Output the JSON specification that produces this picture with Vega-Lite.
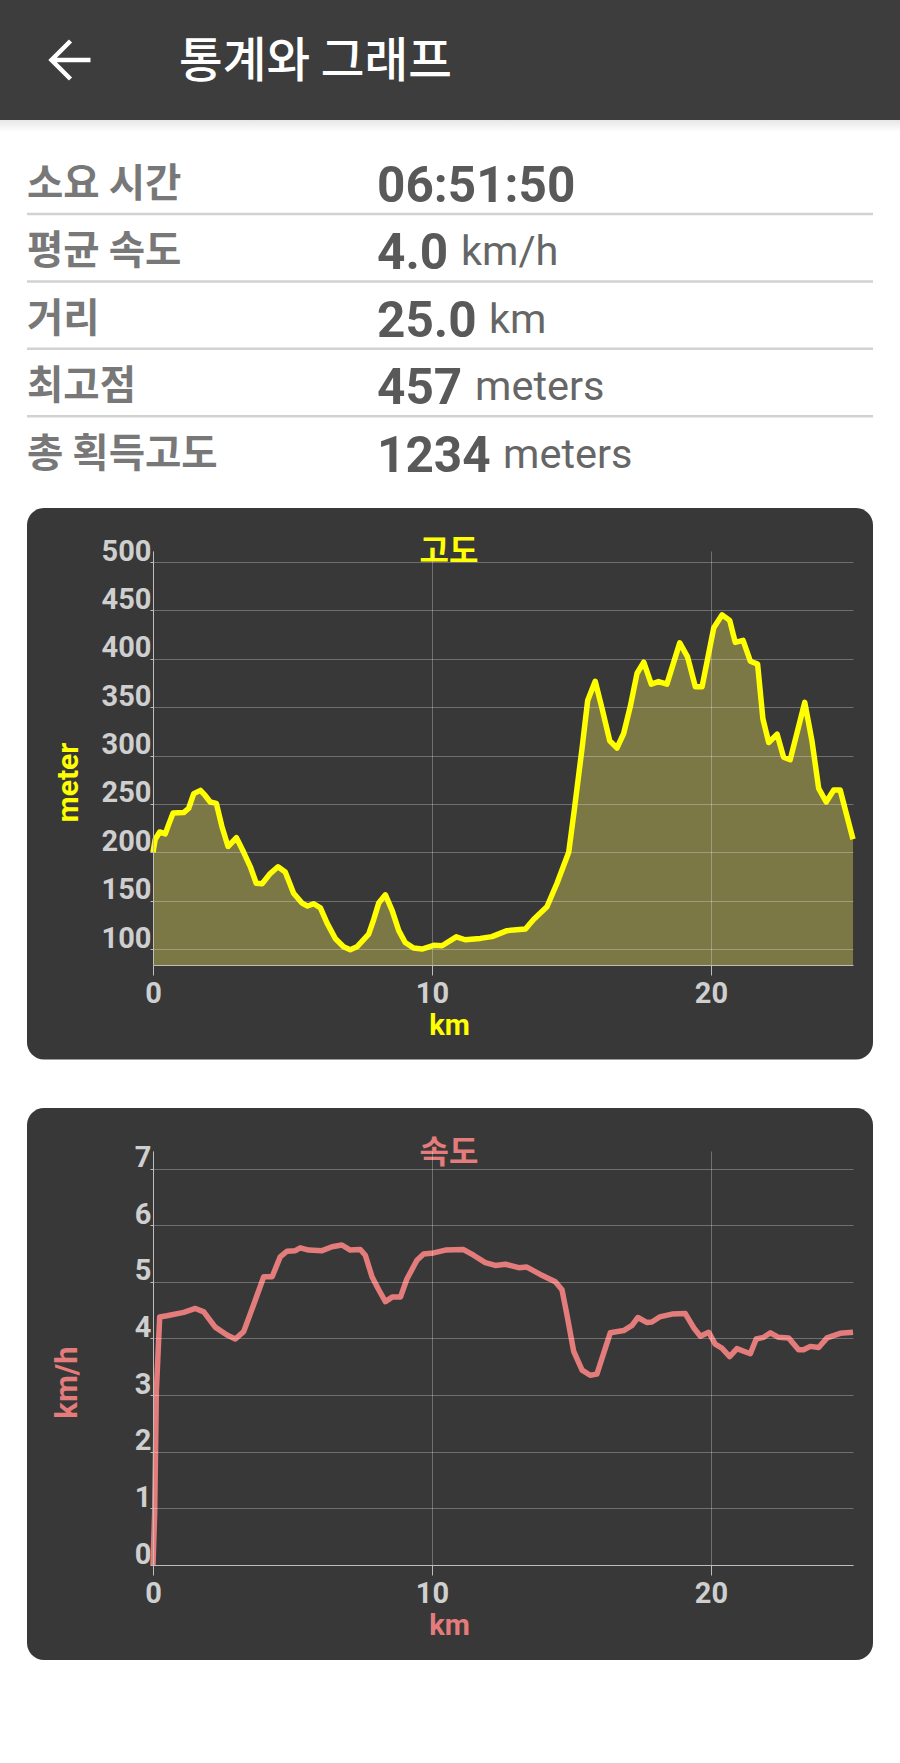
{
  "$schema": "https://vega.github.io/schema/vega-lite/v6.json",
  "background": "white",
  "padding": 0,
  "bounds": "flush",
  "spacing": 186,
  "config": {
    "view": {"stroke": null},
    "axis": {
      "labelFont": "Roboto", "labelFontWeight": "bold", "labelFontSize": 29, "labelColor": "#cfcfcf",
      "titleFont": "Roboto", "titleFontWeight": "bold", "titleFontSize": 28,
      "grid": true, "gridColor": "#ffffff", "gridOpacity": 0.28, "gridWidth": 1,
      "domainColor": "#bdbdbd", "tickColor": "#bdbdbd"
    },
    "text": {"font": "Noto Sans CJK KR"}
  },
  "datasets": {
    "rows": [
      {"row": "소요 시간", "value": "06:51:50", "unit": ""},
      {"row": "평균 속도", "value": "4.0", "unit": "km/h"},
      {"row": "거리", "value": "25.0", "unit": "km"},
      {"row": "최고점", "value": "457", "unit": "meters"},
      {"row": "총 획득고도", "value": "1234", "unit": "meters"}
    ],
    "elevation": [
      {"km": 0, "m": 200}, {"km": 0.08, "m": 213.5}, {"km": 0.24, "m": 221}, {"km": 0.44, "m": 219},
      {"km": 0.56, "m": 228.6}, {"km": 0.72, "m": 240.6}, {"km": 1.1, "m": 241}, {"km": 1.28, "m": 245.5},
      {"km": 1.46, "m": 260.6}, {"km": 1.7, "m": 264}, {"km": 1.87, "m": 258.7}, {"km": 2.05, "m": 252},
      {"km": 2.27, "m": 250.5}, {"km": 2.47, "m": 226.7}, {"km": 2.69, "m": 206}, {"km": 2.99, "m": 215},
      {"km": 3.25, "m": 200}, {"km": 3.49, "m": 185}, {"km": 3.7, "m": 168}, {"km": 3.91, "m": 167.5},
      {"km": 4.2, "m": 178}, {"km": 4.48, "m": 185}, {"km": 4.74, "m": 179.6}, {"km": 5.04, "m": 157.7},
      {"km": 5.34, "m": 147.5}, {"km": 5.54, "m": 144.5}, {"km": 5.76, "m": 146.8}, {"km": 6.0, "m": 142.6},
      {"km": 6.24, "m": 126.8}, {"km": 6.54, "m": 110.6}, {"km": 6.83, "m": 102.3}, {"km": 7.07, "m": 99.2},
      {"km": 7.31, "m": 102.3}, {"km": 7.73, "m": 115.5}, {"km": 7.91, "m": 130.5}, {"km": 8.09, "m": 147.5},
      {"km": 8.33, "m": 156}, {"km": 8.57, "m": 140}, {"km": 8.81, "m": 119}, {"km": 9.04, "m": 106.8},
      {"km": 9.34, "m": 101}, {"km": 9.64, "m": 100}, {"km": 10.06, "m": 103.8}, {"km": 10.36, "m": 103.4},
      {"km": 10.87, "m": 112.6}, {"km": 11.19, "m": 109.6}, {"km": 11.73, "m": 111}, {"km": 12.15, "m": 112.8},
      {"km": 12.69, "m": 119}, {"km": 13.35, "m": 120.7}, {"km": 13.64, "m": 130.5}, {"km": 14.12, "m": 143.7},
      {"km": 14.48, "m": 168}, {"km": 14.9, "m": 200}, {"km": 15.1, "m": 243.7}, {"km": 15.38, "m": 307.8},
      {"km": 15.58, "m": 356.8}, {"km": 15.85, "m": 376.8}, {"km": 16.09, "m": 349.3}, {"km": 16.37, "m": 315.3},
      {"km": 16.63, "m": 307.8}, {"km": 16.87, "m": 322.8}, {"km": 17.11, "m": 351}, {"km": 17.35, "m": 385},
      {"km": 17.59, "m": 396.4}, {"km": 17.86, "m": 373.8}, {"km": 18.12, "m": 376.4}, {"km": 18.42, "m": 373.8},
      {"km": 18.88, "m": 416.4}, {"km": 19.16, "m": 402}, {"km": 19.44, "m": 371}, {"km": 19.68, "m": 371},
      {"km": 20.1, "m": 432}, {"km": 20.4, "m": 445.4}, {"km": 20.67, "m": 439.7}, {"km": 20.87, "m": 417},
      {"km": 21.15, "m": 419}, {"km": 21.41, "m": 397.5}, {"km": 21.67, "m": 394.5}, {"km": 21.86, "m": 338},
      {"km": 22.07, "m": 313.4}, {"km": 22.37, "m": 322}, {"km": 22.6, "m": 298.4}, {"km": 22.84, "m": 295.7},
      {"km": 23.36, "m": 355}, {"km": 23.62, "m": 315}, {"km": 23.86, "m": 266}, {"km": 24.13, "m": 252},
      {"km": 24.4, "m": 264.4}, {"km": 24.63, "m": 264.4}, {"km": 25.09, "m": 213.5}
    ],
    "speed": [
      {"km": 0, "kmh": 0}, {"km": 0.06, "kmh": 0.93}, {"km": 0.12, "kmh": 3.06}, {"km": 0.24, "kmh": 4.38},
      {"km": 0.5, "kmh": 4.4}, {"km": 1.1, "kmh": 4.46}, {"km": 1.52, "kmh": 4.53}, {"km": 1.82, "kmh": 4.47},
      {"km": 2.23, "kmh": 4.2}, {"km": 2.65, "kmh": 4.06}, {"km": 2.95, "kmh": 3.99}, {"km": 3.25, "kmh": 4.12},
      {"km": 3.61, "kmh": 4.6}, {"km": 3.97, "kmh": 5.09}, {"km": 4.27, "kmh": 5.09}, {"km": 4.56, "kmh": 5.44},
      {"km": 4.8, "kmh": 5.54}, {"km": 5.1, "kmh": 5.55}, {"km": 5.28, "kmh": 5.6}, {"km": 5.58, "kmh": 5.56},
      {"km": 6.06, "kmh": 5.55}, {"km": 6.42, "kmh": 5.62}, {"km": 6.77, "kmh": 5.65}, {"km": 7.07, "kmh": 5.56},
      {"km": 7.43, "kmh": 5.57}, {"km": 7.61, "kmh": 5.47}, {"km": 7.85, "kmh": 5.09}, {"km": 8.09, "kmh": 4.86},
      {"km": 8.33, "kmh": 4.65}, {"km": 8.57, "kmh": 4.73}, {"km": 8.87, "kmh": 4.73}, {"km": 9.1, "kmh": 5.05},
      {"km": 9.46, "kmh": 5.38}, {"km": 9.7, "kmh": 5.49}, {"km": 10.06, "kmh": 5.51}, {"km": 10.48, "kmh": 5.56},
      {"km": 11.13, "kmh": 5.57}, {"km": 11.49, "kmh": 5.47}, {"km": 11.91, "kmh": 5.34}, {"km": 12.27, "kmh": 5.29},
      {"km": 12.63, "kmh": 5.31}, {"km": 13.11, "kmh": 5.25}, {"km": 13.4, "kmh": 5.26}, {"km": 13.88, "kmh": 5.13},
      {"km": 14.42, "kmh": 5.0}, {"km": 14.66, "kmh": 4.86}, {"km": 14.84, "kmh": 4.41}, {"km": 15.08, "kmh": 3.77},
      {"km": 15.38, "kmh": 3.44}, {"km": 15.67, "kmh": 3.35}, {"km": 15.91, "kmh": 3.37}, {"km": 16.39, "kmh": 4.1},
      {"km": 16.87, "kmh": 4.14}, {"km": 17.17, "kmh": 4.23}, {"km": 17.38, "kmh": 4.37}, {"km": 17.71, "kmh": 4.28},
      {"km": 17.88, "kmh": 4.29}, {"km": 18.16, "kmh": 4.38}, {"km": 18.6, "kmh": 4.43}, {"km": 19.08, "kmh": 4.44},
      {"km": 19.38, "kmh": 4.19}, {"km": 19.62, "kmh": 4.04}, {"km": 19.92, "kmh": 4.11}, {"km": 20.15, "kmh": 3.9},
      {"km": 20.39, "kmh": 3.83}, {"km": 20.67, "kmh": 3.68}, {"km": 20.93, "kmh": 3.82}, {"km": 21.41, "kmh": 3.73},
      {"km": 21.62, "kmh": 3.99}, {"km": 21.89, "kmh": 4.02}, {"km": 22.13, "kmh": 4.1}, {"km": 22.42, "kmh": 4.02},
      {"km": 22.78, "kmh": 4.01}, {"km": 23.14, "kmh": 3.8}, {"km": 23.32, "kmh": 3.8}, {"km": 23.56, "kmh": 3.86},
      {"km": 23.86, "kmh": 3.84}, {"km": 24.16, "kmh": 4.01}, {"km": 24.63, "kmh": 4.09}, {"km": 25.09, "kmh": 4.11}
    ]
  },
  "vconcat": [
    {
      "width": 700,
      "height": 365,
      "layer": [
        {
          "data": {"values": [{}]},
          "mark": {"type": "rect", "color": {"x1": 0, "y1": 0, "x2": 0, "y2": 1, "gradient": "linear", "stops": [{"offset": 0, "color": "#e6e6e6"}, {"offset": 1, "color": "#ffffff"}]}},
          "encoding": {"x": {"value": -153}, "x2": {"value": 747}, "y": {"value": 120}, "y2": {"value": 132}}
        },
        {
          "data": {"values": [{}]},
          "mark": {"type": "rect", "color": "#3d3d3d"},
          "encoding": {"x": {"value": -153}, "x2": {"value": 747}, "y": {"value": 0}, "y2": {"value": 120}}
        },
        {
          "data": {"values": [{}]},
          "mark": {"type": "point", "shape": "M1,0L-0.95,0M0,-0.95L-0.95,0L0,0.95", "filled": false, "size": 1600, "color": "white", "strokeWidth": 4.5, "opacity": 1},
          "encoding": {"x": {"value": -82.5}, "y": {"value": 60}}
        },
        {
          "data": {"values": [{"title": "통계와 그래프"}]},
          "mark": {"type": "text", "fontSize": 47.5, "fontWeight": 500, "color": "white", "align": "left", "baseline": "alphabetic"},
          "encoding": {"text": {"field": "title"}, "x": {"value": 26}, "y": {"value": 77}}
        },
        {
          "data": {"name": "rows"},
          "transform": [{"filter": "datum.row !== '총 획득고도'"}],
          "mark": {"type": "rule", "color": "#d2d2d2", "strokeWidth": 2.5},
          "encoding": {
            "x": {"value": -126},
            "x2": {"value": 720},
            "y": {"field": "row", "type": "nominal", "sort": null, "axis": null, "scale": {"type": "point", "padding": 0, "range": [214, 483.6], "domain": ["소요 시간", "평균 속도", "거리", "최고점", "총 획득고도"]}}
          }
        },
        {
          "data": {"name": "rows"},
          "mark": {"type": "text", "fontSize": 39.5, "fontWeight": "bold", "color": "#787878", "align": "left", "baseline": "alphabetic", "dy": -17},
          "encoding": {"text": {"field": "row"}, "x": {"value": -126}, "y": {"field": "row", "type": "nominal", "sort": null}}
        },
        {
          "data": {"name": "rows"},
          "mark": {"type": "text", "font": "Roboto", "fontSize": 49.5, "fontWeight": "bold", "color": "#595959", "align": "left", "baseline": "alphabetic", "dy": -12},
          "encoding": {"text": {"field": "value"}, "x": {"value": 224}, "y": {"field": "row", "type": "nominal", "sort": null}}
        },
        {
          "data": {"name": "rows"},
          "transform": [{"filter": {"field": "row", "equal": "평균 속도"}}],
          "mark": {"type": "text", "font": "Roboto", "fontSize": 41.5, "color": "#666666", "align": "left", "baseline": "alphabetic", "dy": -16},
          "encoding": {"text": {"field": "unit"}, "x": {"value": 308}, "y": {"field": "row", "type": "nominal", "sort": null}}
        },
        {
          "data": {"name": "rows"},
          "transform": [{"filter": {"field": "row", "equal": "거리"}}],
          "mark": {"type": "text", "font": "Roboto", "fontSize": 41.5, "color": "#666666", "align": "left", "baseline": "alphabetic", "dy": -16},
          "encoding": {"text": {"field": "unit"}, "x": {"value": 336}, "y": {"field": "row", "type": "nominal", "sort": null}}
        },
        {
          "data": {"name": "rows"},
          "transform": [{"filter": {"field": "row", "equal": "최고점"}}],
          "mark": {"type": "text", "font": "Roboto", "fontSize": 41.5, "color": "#666666", "align": "left", "baseline": "alphabetic", "dy": -16},
          "encoding": {"text": {"field": "unit"}, "x": {"value": 322}, "y": {"field": "row", "type": "nominal", "sort": null}}
        },
        {
          "data": {"name": "rows"},
          "transform": [{"filter": {"field": "row", "equal": "총 획득고도"}}],
          "mark": {"type": "text", "font": "Roboto", "fontSize": 41.5, "color": "#666666", "align": "left", "baseline": "alphabetic", "dy": -16},
          "encoding": {"text": {"field": "unit"}, "x": {"value": 350}, "y": {"field": "row", "type": "nominal", "sort": null}}
        }
      ]
    },
    {
      "width": 700,
      "height": 414,
      "layer": [
        {
          "data": {"values": [{}]},
          "mark": {"type": "rect", "color": "#383838", "cornerRadius": 17},
          "encoding": {"x": {"value": -126}, "x2": {"value": 720}, "y": {"value": -43}, "y2": {"value": 508.5}}
        },
        {
          "data": {"name": "elevation"},
          "mark": {"type": "area", "color": "#7b7846"},
          "encoding": {
            "x": {
              "field": "km", "type": "quantitative",
              "scale": {"domain": [0, 25.09], "nice": false, "zero": false},
              "axis": {"values": [0, 10, 20], "tickSize": 10, "labelPadding": 4, "labelFlush": false, "zindex": 1, "title": "km", "titleColor": "#ffff00", "titleFontSize": 29, "titleX": 296, "titleY": 69, "titleAlign": "center", "titleBaseline": "alphabetic"}
            },
            "y": {
              "field": "m", "type": "quantitative",
              "scale": {"domain": [83.5, 511.4], "nice": false, "zero": false},
              "axis": {"values": [100, 150, 200, 250, 300, 350, 400, 450, 500], "tickSize": 3, "labelPadding": -1, "labelBaseline": "alphabetic", "labelOffset": -2, "zindex": 1, "title": "meter", "titleColor": "#ffff00", "titleFontSize": 30, "titleX": -85, "titleY": 231, "titleAlign": "center", "titleBaseline": "middle"}
            },
            "y2": {"datum": 83.5}
          }
        },
        {
          "data": {"name": "elevation"},
          "mark": {"type": "line", "color": "#ffff00", "strokeWidth": 5.5, "strokeJoin": "round"},
          "encoding": {"x": {"field": "km", "type": "quantitative"}, "y": {"field": "m", "type": "quantitative"}}
        },
        {
          "data": {"values": [{"title": "고도"}]},
          "mark": {"type": "text", "fontSize": 32, "fontWeight": "bold", "color": "#ffff00", "align": "center", "baseline": "alphabetic"},
          "encoding": {"text": {"field": "title"}, "x": {"value": 296}, "y": {"value": 11}}
        }
      ]
    },
    {
      "width": 700,
      "height": 414,
      "layer": [
        {
          "data": {"values": [{}]},
          "mark": {"type": "rect", "color": "#383838", "cornerRadius": 17},
          "encoding": {"x": {"value": -126}, "x2": {"value": 720}, "y": {"value": -43}, "y2": {"value": 509}}
        },
        {
          "data": {"name": "speed"},
          "mark": {"type": "line", "color": "#e57c7c", "strokeWidth": 5.5, "strokeJoin": "round"},
          "encoding": {
            "x": {
              "field": "km", "type": "quantitative",
              "scale": {"domain": [0, 25.09], "nice": false, "zero": false},
              "axis": {"values": [0, 10, 20], "tickSize": 10, "labelPadding": 4, "labelFlush": false, "zindex": 1, "title": "km", "titleColor": "#e57c7c", "titleFontSize": 29, "titleX": 296, "titleY": 69, "titleAlign": "center", "titleBaseline": "alphabetic"}
            },
            "y": {
              "field": "kmh", "type": "quantitative",
              "scale": {"domain": [0, 7.31], "nice": false, "zero": false},
              "axis": {"values": [0, 1, 2, 3, 4, 5, 6, 7], "tickSize": 3, "labelPadding": -1, "labelBaseline": "alphabetic", "labelOffset": -2, "zindex": 1, "title": "km/h", "titleColor": "#e57c7c", "titleFontSize": 31, "titleX": -86, "titleY": 231, "titleAlign": "center", "titleBaseline": "middle"}
            }
          }
        },
        {
          "data": {"values": [{"title": "속도"}]},
          "mark": {"type": "text", "fontSize": 32, "fontWeight": "bold", "color": "#e57c7c", "align": "center", "baseline": "alphabetic"},
          "encoding": {"text": {"field": "title"}, "x": {"value": 296}, "y": {"value": 12}}
        }
      ]
    }
  ]
}
